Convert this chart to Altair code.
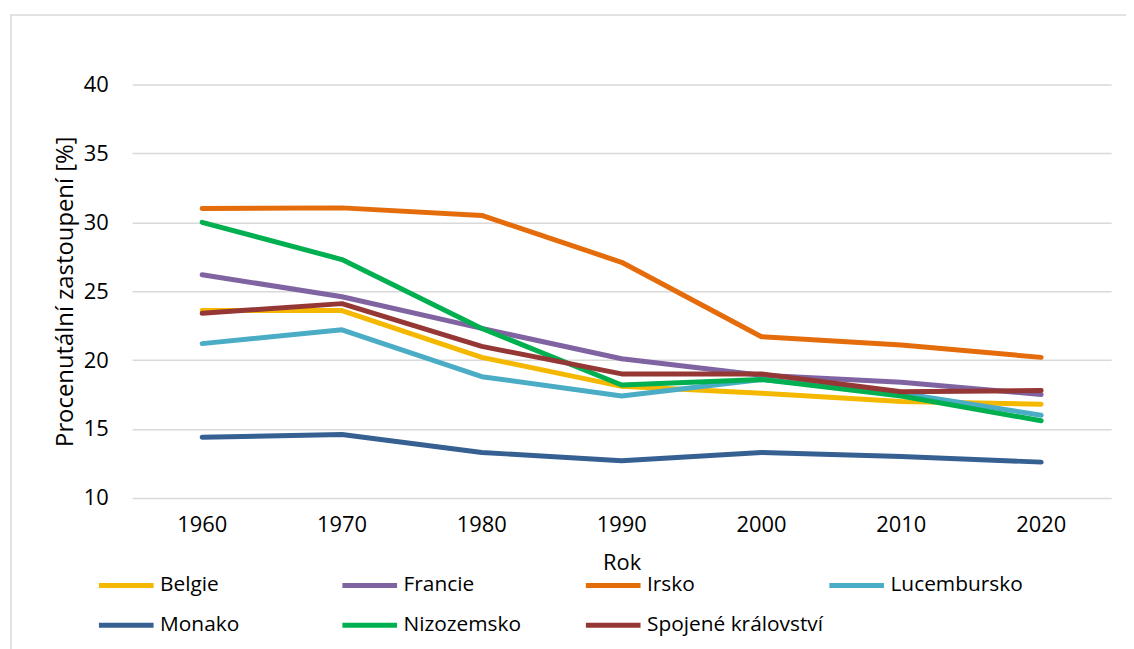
import altair as alt
import pandas as pd

years = [1960, 1970, 1980, 1990, 2000, 2010, 2020]
countries = ["Belgie", "Francie", "Irsko", "Lucembursko", "Monako", "Nizozemsko", "Spojené království"]
colors = ["#F5B800", "#8064A2", "#E46C0A", "#4BACC6", "#366092", "#00B050", "#953735"]

belgie = [23.6, 23.6, 20.2, 18.1, 17.6, 17.0, 16.8]
francie = [26.2, 24.6, 22.3, 20.1, 18.9, 18.4, 17.5]
irsko = [31.0, 31.05, 30.5, 27.1, 21.7, 21.1, 20.2]
lucembursko = [21.2, 22.2, 18.8, 17.4, 18.6, 17.6, 16.0]
monako = [14.4, 14.6, 13.3, 12.7, 13.3, 13.0, 12.6]
nizozemsko = [30.0, 27.3, 22.3, 18.2, 18.6, 17.4, 15.6]
spojene = [23.4, 24.1, 21.0, 19.0, 19.0, 17.7, 17.8]

series = [belgie, francie, irsko, lucembursko, monako, nizozemsko, spojene]
rows = []
for name, vals in zip(countries, series):
    for y, v in zip(years, vals):
        rows.append({"Rok": str(y), "Země": name, "Hodnota": v})
df = pd.DataFrame(rows)

FONT = "Open Sans"

lines = alt.Chart(df).mark_line(strokeWidth=5, strokeCap="round", strokeJoin="round").encode(
    x=alt.X("Rok:N", sort=[str(y) for y in years], scale=alt.Scale(type="band", paddingInner=0, paddingOuter=0),
            axis=alt.Axis(title="Rok", labelAngle=0, ticks=False, domain=False, grid=False,
                          labelFontSize=22, labelPadding=17, titleFontSize=22, titleFontWeight="normal",
                          titlePadding=17, labelColor="#000000", titleColor="#000000", labelFont=FONT, titleFont=FONT)),
    y=alt.Y("Hodnota:Q", scale=alt.Scale(domain=[10, 40], nice=False, zero=False),
            axis=alt.Axis(title="Procenutální zastoupení [%]", values=[10, 15, 20, 25, 30, 35, 40],
                          ticks=False, domain=False, grid=True, gridColor="#d9d9d9", gridWidth=1.5,
                          labelFontSize=22, labelPadding=24, titleFontSize=24, titleFontWeight="normal",
                          titlePadding=6, labelColor="#000000", titleColor="#000000", labelFont=FONT, titleFont=FONT)),
    color=alt.Color("Země:N", sort=countries, scale=alt.Scale(domain=countries, range=colors),
                    legend=alt.Legend(title=None, orient="none", legendX=-36, legendY=474, columns=4,
                                      direction="horizontal",
                                      symbolType="stroke", symbolSize=3025, symbolStrokeWidth=5,
                                      labelFontSize=21, labelFont=FONT, labelColor="#000000",
                                      labelOffset=4, columnPadding=-5, rowPadding=-14, gridAlign="all",
                                      labelLimit=300)),
)

border = alt.Chart(pd.DataFrame({"a": [0]})).mark_rect(fill=None, stroke="#d9d9d9", strokeWidth=1.5).encode(
    x=alt.value(-122), x2=alt.value(1100), y=alt.value(-70), y2=alt.value(700)
)

chart = alt.layer(border, lines).properties(
    width=985, height=416,
    autosize=alt.AutoSizeParams(type="none"),
    padding={"left": 125, "top": 75, "right": 15, "bottom": 150},
).configure_view(stroke=None)

chart.save("out.html", embed_options={"renderer": "svg", "actions": False})
